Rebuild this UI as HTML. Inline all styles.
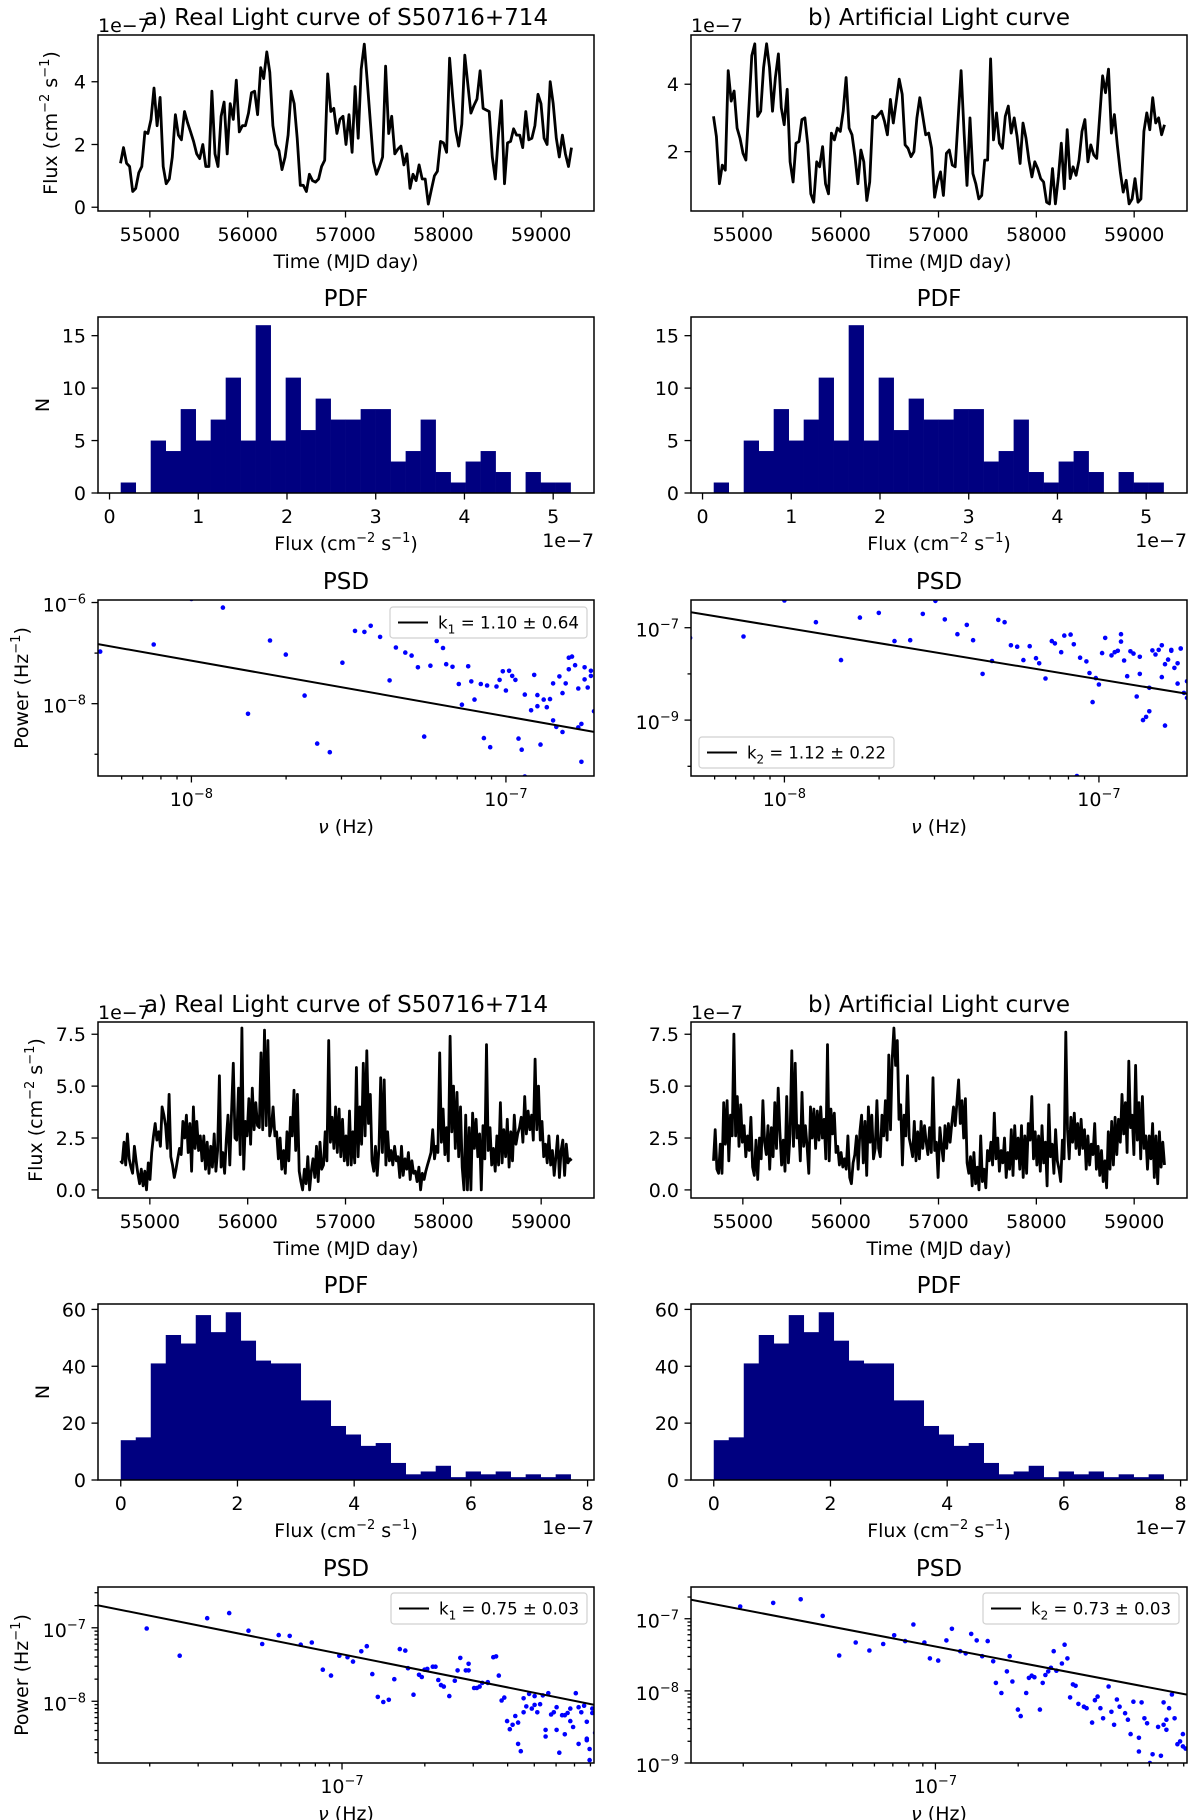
<!DOCTYPE html>
<html><head><meta charset="utf-8"><title>Light curves, PDF and PSD</title>
<style>
html,body{margin:0;padding:0;background:#fff;}
svg{display:block;font-family:"DejaVu Sans","Liberation Sans",sans-serif;}
</style></head>
<body>
<svg id="fig" xmlns="http://www.w3.org/2000/svg" width="1200" height="1820" viewBox="0 0 1200 1820">
<rect x="0" y="0" width="1200" height="1820" fill="#fff"/>
<defs id="defs"></defs>
</svg>
<script>
// ---------------- DATA ----------------
const lcTimeStart = 54700;
const lcTimeEnd = 59310;
const lcRealTop = [1.4,1.9,1.4,1.3,0.5,0.6,1.1,1.3,2.4,2.35,2.8,3.8,2.6,3.5,1.3,0.75,0.9,1.6,2.95,2.3,2.15,3.05,2.7,2.4,2.1,1.7,1.55,2.0,1.3,1.3,3.7,1.7,1.3,2.9,3.35,1.7,3.3,2.8,4.05,2.4,2.6,2.6,3.0,3.65,3.7,2.95,4.45,4.1,4.95,4.3,2.6,2.0,1.8,1.2,1.6,2.3,3.7,3.3,2.2,0.7,0.7,0.5,1.05,0.85,0.8,0.9,1.3,1.5,4.25,3.05,3.15,2.35,2.8,2.9,2.0,2.95,1.75,3.85,2.2,4.4,5.2,4.0,2.7,1.45,1.05,1.3,1.6,4.5,2.35,2.9,1.7,1.85,1.95,1.35,1.7,0.6,1.05,0.85,1.35,0.9,0.9,0.1,0.55,1.0,1.15,2.1,2.05,1.75,4.75,3.5,2.45,1.95,2.65,4.85,3.9,3.0,3.25,3.45,4.35,3.15,3.1,3.05,1.6,0.9,2.3,3.4,0.75,2.05,2.1,2.5,2.3,2.3,1.9,3.05,2.15,2.2,2.6,3.6,3.3,2.2,2.0,4.0,3.3,2.2,1.6,2.3,1.7,1.3,1.9];
const lcArtTop = [3.05,2.45,1.05,1.6,1.45,4.4,3.5,3.8,2.7,2.4,1.95,1.75,3.3,4.85,5.2,3.05,3.2,4.5,5.2,4.5,3.2,4.2,4.9,3.3,2.8,3.85,1.7,1.1,2.25,2.3,2.95,3.0,2.2,0.75,0.5,1.7,1.55,2.15,1.05,0.75,2.55,2.35,2.7,2.6,3.2,4.2,2.7,2.5,1.85,1.05,2.05,1.7,0.55,1.1,3.05,3.0,3.1,3.2,2.9,2.5,3.55,2.85,3.5,4.15,3.7,2.2,2.1,1.85,2.0,3.0,3.6,3.05,2.5,2.55,2.1,0.65,1.1,1.4,0.7,1.95,2.05,1.6,1.55,3.0,4.4,2.55,1.0,3.0,1.35,1.05,0.6,0.7,1.75,1.75,4.75,2.35,3.15,2.25,2.1,3.05,3.35,2.55,3.0,2.45,1.65,2.85,2.4,1.75,1.25,1.7,1.5,1.2,1.1,0.5,0.45,1.5,0.45,1.25,2.25,0.9,2.65,1.2,1.55,1.3,1.75,2.6,2.95,1.7,2.2,1.9,1.8,3.0,4.25,3.75,4.45,2.55,3.1,2.2,1.4,0.8,1.15,0.45,0.6,1.2,0.5,0.6,2.6,3.15,2.65,3.6,2.85,3.0,2.5,2.8];
const lcRealBottom = [1.4,1.3,2.3,1.2,2.7,1.5,1.1,0.8,2.1,1.4,0.8,0.3,1.0,0.2,0.9,0.0,1.3,0.5,1.8,2.6,3.2,2.4,
2.8,2.1,4.0,3.6,3.1,2.0,4.6,1.6,1.2,0.6,1.0,1.5,2.0,1.7,3.3,2.5,3.6,1.8,3.2,0.9,4.0,2.0,3.3,1.9,2.6,1.4,
2.6,1.0,2.3,0.8,2.1,1.1,2.7,0.9,1.9,5.5,1.1,1.8,0.8,2.4,3.6,1.2,3.7,6.1,2.5,2.4,4.9,1.7,
7.8,1.0,3.3,2.6,4.4,2.2,4.9,2.9,4.2,3.1,3.0,6.6,2.9,7.7,3.1,7.2,2.6,3.0,4.0,2.6,
2.8,1.5,2.5,1.0,1.9,0.8,2.8,1.4,3.5,2.6,4.8,1.9,4.6,0.9,0.4,0.0,1.0,0.3,1.6,0.0,0.9,1.5,
0.6,2.1,0.4,2.3,1.0,1.2,2.8,1.4,7.2,2.3,3.5,2.0,4.0,1.8,3.9,1.6,3.4,1.4,2.6,1.2,3.8,1.2,
2.8,1.3,5.9,1.6,4.0,2.2,6.1,2.6,6.7,3.2,4.6,1.4,0.9,2.1,0.7,2.0,5.4,1.8,5.3,1.2,2.8,1.4,
1.9,1.2,2.1,1.4,1.6,0.6,2.1,0.7,1.5,1.0,1.8,0.5,1.4,0.8,0.9,0.4,1.1,0.0,0.8,0.5,0.9,1.2,
1.5,1.8,2.9,1.5,2.1,1.8,6.6,2.3,3.9,1.7,3.0,1.4,7.4,2.8,5.0,2.0,4.7,1.6,4.0,1.1,0.0,3.6,
0.0,3.0,0.0,3.7,2.0,3.4,1.6,2.7,0.0,3.1,1.5,7.0,1.9,3.0,1.2,2.0,0.9,2.6,1.2,4.2,1.3,2.9,
1.6,3.4,1.1,2.8,1.4,3.6,2.2,2.7,3.0,3.5,2.3,4.5,2.7,3.8,2.9,3.6,2.4,6.3,2.9,5.0,2.4,3.3,
1.6,2.2,1.3,2.6,1.2,1.9,0.7,1.6,2.6,0.6,1.9,2.4,0.7,2.2,1.3,1.5,1.4];
const lcArtBottom = [1.4,2.9,1.0,0.8,2.2,0.8,4.2,2.2,4.3,1.4,3.6,2.6,7.5,2.6,4.5,2.1,4.1,2.3,3.1,1.6,2.6,1.9,3.5,1.1,
0.7,2.4,0.5,2.5,1.5,4.3,2.3,1.7,3.1,1.0,3.0,1.6,4.2,2.0,4.9,2.8,1.2,2.4,0.9,4.5,1.3,2.7,6.7,2.1,6.1,2.5,3.1,
1.4,4.7,2.1,3.1,2.1,0.8,4.0,2.5,3.9,2.0,3.8,2.4,4.0,2.5,3.4,1.5,7.0,1.4,3.9,2.7,3.7,1.8,
2.1,1.2,1.8,1.1,1.5,1.0,2.6,0.6,0.3,1.3,1.7,2.6,1.0,2.8,3.6,1.3,3.3,0.7,4.0,2.3,3.6,1.5,
2.0,4.3,2.0,1.6,3.6,2.6,4.3,2.4,6.5,2.9,6.3,7.8,6.0,7.2,3.4,4.1,1.2,3.6,2.6,5.5,2.5,
2.1,1.6,3.3,1.4,2.8,1.5,3.3,2.0,3.1,2.3,1.7,3.0,1.8,5.4,1.9,2.3,0.6,3.0,2.1,1.4,3.1,2.0,
3.2,2.3,3.2,4.0,3.1,4.2,5.3,3.2,4.3,2.5,4.4,1.3,0.8,1.6,0.2,1.8,0.3,1.1,0.0,2.6,0.4,1.0,0.1,
1.9,1.4,2.3,1.2,3.7,1.5,2.5,0.9,1.9,1.3,2.5,0.6,1.8,1.0,2.9,0.7,3.1,1.5,2.5,1.0,3.1,0.6,
2.6,0.8,3.2,2.4,4.5,1.5,2.8,1.2,2.6,0.9,3.1,1.3,2.3,0.2,4.1,1.6,2.2,0.8,2.9,1.4,1.0,0.4,
2.4,1.5,7.6,2.9,1.5,3.5,2.3,3.7,2.0,3.2,1.7,3.4,2.0,2.9,1.0,2.6,1.2,2.2,1.7,3.2,1.0,2.1,
0.7,1.9,0.4,1.4,0.1,2.8,1.0,3.3,1.2,3.5,1.7,3.4,2.3,4.6,2.7,4.2,1.8,6.2,3.0,3.6,1.7,6.0,
2.4,4.2,1.5,4.5,2.0,2.6,1.0,2.6,1.5,3.2,0.6,2.6,0.3,2.8,1.1,2.3,1.2];

const pdfTopBinStart = 0.126;
const pdfTopBinWidth = 0.169;
const pdfTopCounts = [1,0,5,4,8,5,7,11,5,16,5,11,6,9,7,7,8,8,3,4,7,2,1,3,4,2,0,2,1,1];
const pdfBottomBinStart = 0.0;
const pdfBottomBinWidth = 0.257;
const pdfBottomCounts = [14,15,41,51,48,58,52,59,49,42,41,41,28,28,19,16,12,13,6,2,3,5,1,3,2,3,1,2,1,2];

// PSD values as log10(frequency / Hz) and log10(power / Hz^-1)
const psdRealTopLogF = [-8.29,-8.12,-8.00,-7.90,-7.82,-7.75,-7.70,-7.64,-7.60,-7.56,-7.52,-7.48,-7.45,-7.43,-7.40,-7.37,-7.35,-7.32,-7.30,-7.28,-7.26,-7.24,-7.22,-7.20,-7.19,-7.17,-7.15,-7.14,-7.12,-7.11,-7.10,-7.08,-7.07,-7.06,-7.05,-7.03,-7.02,-7.01,-7.00,-6.99,-6.98,-6.97,-6.96,-6.95,-6.94,-6.92,-6.91,-6.90,-6.90,-6.89,-6.88,-6.87,-6.86,-6.85,-6.85,-6.84,-6.83,-6.82,-6.82,-6.81,-6.80,-6.80,-6.79,-6.78,-6.77,-6.77,-6.76,-6.76,-6.75,-6.75,-6.74,-6.73,-6.73,-6.72,-6.94];
const psdRealTopLogP = [-6.97,-6.83,-5.93,-6.10,-8.20,-6.75,-7.03,-7.84,-8.79,-8.96,-7.19,-6.56,-6.58,-6.46,-6.68,-7.54,-6.89,-6.99,-7.05,-7.28,-8.65,-7.25,-6.76,-6.90,-7.22,-7.27,-7.61,-8.02,-7.26,-7.56,-7.92,-7.61,-8.68,-7.64,-8.86,-7.66,-7.53,-7.36,-7.74,-7.35,-7.45,-7.53,-8.69,-8.91,-7.82,-8.13,-7.43,-7.83,-8.05,-8.81,-7.92,-8.07,-7.91,-8.33,-7.60,-8.46,-7.46,-7.79,-8.56,-7.60,-7.32,-7.09,-7.07,-7.24,-7.70,-8.47,-8.40,-9.15,-7.52,-7.28,-7.68,-7.35,-7.45,-8.15,-9.44];
const psdArtTopLogF = [-8.30,-8.13,-8.00,-7.90,-7.82,-7.76,-7.70,-7.65,-7.60,-7.56,-7.52,-7.49,-7.45,-7.42,-7.40,-7.37,-7.34,-7.32,-7.30,-7.28,-7.26,-7.24,-7.22,-7.20,-7.19,-7.17,-7.15,-7.14,-7.12,-7.11,-7.09,-7.08,-7.06,-7.04,-7.03,-7.02,-7.01,-7.00,-6.99,-6.98,-6.96,-6.95,-6.94,-6.93,-6.93,-6.92,-6.91,-6.90,-6.89,-6.88,-6.87,-6.87,-6.86,-6.85,-6.84,-6.84,-6.83,-6.82,-6.81,-6.80,-6.80,-6.79,-6.79,-6.78,-6.77,-6.77,-6.76,-6.75,-6.75,-6.74,-6.74,-6.73,-6.72,-6.72,-7.07];
const psdArtTopLogP = [-7.22,-7.19,-6.41,-6.88,-7.70,-6.78,-6.68,-7.29,-7.27,-6.70,-6.42,-6.82,-7.14,-6.94,-7.27,-8.00,-7.72,-6.83,-6.88,-7.38,-7.41,-7.70,-7.40,-7.66,-7.77,-8.10,-7.29,-7.34,-7.53,-7.17,-7.15,-7.36,-7.65,-7.73,-7.98,-8.61,-8.09,-8.23,-7.55,-7.22,-7.60,-7.53,-7.50,-7.30,-7.14,-7.71,-8.05,-7.51,-7.56,-8.49,-8.00,-7.63,-9.00,-8.93,-8.81,-8.30,-7.49,-7.58,-7.48,-7.38,-8.07,-9.12,-7.79,-7.69,-7.48,-7.50,-7.87,-8.21,-7.77,-7.45,-7.45,-8.41,-8.16,-8.52,-10.21];
const psdRealBottomLogF = [-7.71,-7.59,-7.49,-7.41,-7.34,-7.29,-7.23,-7.19,-7.15,-7.11,-7.07,-7.04,-7.01,-6.98,-6.96,-6.93,-6.91,-6.89,-6.87,-6.85,-6.83,-6.81,-6.79,-6.77,-6.76,-6.74,-6.72,-6.71,-6.70,-6.69,-6.67,-6.66,-6.65,-6.64,-6.63,-6.61,-6.59,-6.58,-6.57,-6.55,-6.54,-6.54,-6.52,-6.51,-6.50,-6.49,-6.47,-6.47,-6.45,-6.44,-6.43,-6.42,-6.41,-6.40,-6.39,-6.38,-6.37,-6.36,-6.36,-6.35,-6.34,-6.34,-6.33,-6.32,-6.31,-6.30,-6.30,-6.29,-6.28,-6.27,-6.26,-6.26,-6.25,-6.24,-6.23,-6.22,-6.22,-6.21,-6.20,-6.19,-6.19,-6.18,-6.17,-6.17,-6.16,-6.15,-6.14,-6.14,-6.13,-6.12,-6.11,-6.11,-6.11,-6.10,-6.10,-6.09,-6.09,-6.08,-6.07,-6.07];
const psdRealBottomLogP = [-7.01,-7.38,-6.87,-6.80,-7.04,-7.22,-7.10,-7.11,-7.23,-7.20,-7.57,-7.65,-7.38,-7.40,-7.46,-7.32,-7.25,-7.63,-7.94,-8.01,-7.98,-7.70,-7.29,-7.31,-7.55,-7.91,-7.64,-7.67,-7.57,-7.56,-7.53,-7.53,-7.71,-7.78,-7.80,-7.93,-7.72,-7.58,-7.41,-7.58,-7.49,-7.58,-7.82,-7.82,-7.80,-7.75,-7.74,-7.75,-7.40,-7.39,-7.65,-7.99,-7.95,-8.27,-8.38,-8.32,-8.20,-8.29,-8.58,-8.68,-7.96,-8.15,-8.07,-7.90,-8.10,-8.05,-7.93,-8.15,-8.04,-7.92,-8.39,-8.48,-7.89,-8.18,-8.15,-8.08,-8.39,-8.70,-8.19,-8.19,-8.45,-8.16,-8.10,-8.27,-8.35,-7.89,-8.08,-8.58,-8.15,-8.06,-8.28,-8.53,-8.51,-8.65,-8.80,-8.16,-8.10,-8.43,-8.16,-8.77];
const psdArtBottomLogF = [-7.71,-7.59,-7.49,-7.41,-7.35,-7.29,-7.24,-7.19,-7.15,-7.11,-7.08,-7.04,-7.02,-6.99,-6.96,-6.94,-6.91,-6.89,-6.87,-6.85,-6.83,-6.81,-6.79,-6.78,-6.76,-6.74,-6.73,-6.72,-6.70,-6.69,-6.67,-6.66,-6.65,-6.64,-6.62,-6.61,-6.60,-6.59,-6.58,-6.57,-6.56,-6.54,-6.53,-6.52,-6.51,-6.50,-6.49,-6.48,-6.46,-6.45,-6.43,-6.42,-6.41,-6.40,-6.39,-6.37,-6.36,-6.35,-6.34,-6.33,-6.31,-6.30,-6.29,-6.28,-6.26,-6.26,-6.25,-6.24,-6.23,-6.22,-6.21,-6.19,-6.18,-6.17,-6.17,-6.16,-6.16,-6.15,-6.14,-6.13,-6.12,-6.11,-6.10,-6.10,-6.09];
const psdArtBottomLogP = [-6.83,-6.78,-6.73,-6.96,-7.51,-7.33,-7.44,-7.35,-7.23,-7.31,-7.08,-7.33,-7.55,-7.58,-7.30,-7.14,-7.45,-7.48,-7.21,-7.30,-7.52,-7.31,-7.59,-7.89,-8.03,-7.73,-7.52,-7.87,-8.26,-8.35,-8.03,-7.82,-7.79,-7.81,-8.26,-7.89,-7.78,-7.73,-7.68,-7.45,-7.72,-7.62,-7.36,-7.55,-8.09,-7.91,-7.93,-8.18,-8.22,-8.24,-8.44,-8.13,-8.08,-8.24,-8.38,-7.94,-8.29,-8.47,-8.12,-8.22,-8.31,-8.40,-8.60,-8.15,-8.84,-8.65,-8.16,-8.38,-8.45,-9.00,-8.88,-8.50,-8.90,-8.47,-8.16,-8.54,-8.40,-8.24,-8.05,-8.38,-8.74,-8.70,-8.77,-8.60,-8.80];

// power-law fits: log10 P = fitIntercept - fitSlope * log10 f
const fitSlopes = [1.10, 1.12, 0.75, 0.73];
const fitIntercepts = [-15.95, -15.957, -12.61, -12.495];
const fitLabels = [["1","1.10 ± 0.64"],["2","1.12 ± 0.22"],["1","0.75 ± 0.03"],["2","0.73 ± 0.03"]];

const lcYTicksTopLeft = [0,2,4];
const lcYTicksTopRight = [2,4];
const lcYTicksBottom = [0,2.5,5,7.5];
const lcXTicks = [55000,56000,57000,58000,59000];
const pdfXTicksTop = [0,1,2,3,4,5];
const pdfYTicksTop = [0,5,10,15];
const pdfXTicksBottom = [0,2,4,6,8];
const pdfYTicksBottom = [0,20,40,60];

// ---------------- DRAWING ----------------
const NS = 'http://www.w3.org/2000/svg';
const svg = document.getElementById('fig');
const defs = document.getElementById('defs');
const FS = 19;
function mk(tag, attrs, parent){
  const e = document.createElementNS(NS, tag);
  for (const k in attrs) e.setAttribute(k, attrs[k]);
  (parent || svg).appendChild(e);
  return e;
}
function text(x, y, str, size, anchor, name, parent){
  const t = mk('text', {x:x, y:y, 'font-size':size, 'text-anchor':anchor, fill:'#000'}, parent);
  t.textContent = str;
  
  
  return t;
}
function powText(x, y, exp, anchor, name, parent){
  const t = mk('text', {x:x, y:y, 'font-size':FS, 'text-anchor':anchor, fill:'#000'}, parent);
  
  
  const a = mk('tspan', {}, t); a.textContent = '10';
  const b = mk('tspan', {dy:-8, 'font-size':13}, t); b.textContent = '−' + Math.abs(exp);
  return t;
}
let clipId = 0;
function makeAxes(L, T, R, B, xlim, ylim, name){
  const g = mk('g', {});
  
  
  const id = 'clip' + (clipId++);
  const cp = mk('clipPath', {id:id}, defs);
  mk('rect', {x:L, y:T, width:R-L, height:B-T}, cp);
  const plot = mk('g', {'clip-path':'url(#' + id + ')'}, g);
  
  
  const sx = v => L + (v - xlim[0]) / (xlim[1] - xlim[0]) * (R - L);
  const sy = v => B - (v - ylim[0]) / (ylim[1] - ylim[0]) * (B - T);
  return {g, plot, sx, sy, L, T, R, B, xlim, ylim, name};
}
function frame(ax){
  const f = mk('rect', {x:ax.L, y:ax.T, width:ax.R-ax.L, height:ax.B-ax.T, fill:'none', stroke:'#000', 'stroke-width':1.5}, ax.g);
  
  
}
function xTick(ax, v, len){
  const x = ax.sx(v);
  const l = mk('line', {x1:x, x2:x, y1:ax.B, y2:ax.B+len, stroke:'#000', 'stroke-width':1.3}, ax.g);
  
  
  return x;
}
function yTick(ax, v, len){
  const y = ax.sy(v);
  const l = mk('line', {x1:ax.L-len, x2:ax.L, y1:y, y2:y, stroke:'#000', 'stroke-width':1.3}, ax.g);
  
  
  return y;
}
function linTicks(ax, xt, yt, xfmt, yfmt){
  xt.forEach(v => { const x = xTick(ax, v, 6.5); text(x, ax.B + 30, xfmt(v), FS, 'middle', 'x-tick-label', ax.g); });
  yt.forEach(v => { const y = yTick(ax, v, 6.5); text(ax.L - 12, y + 7, yfmt(v), FS, 'end', 'y-tick-label', ax.g); });
}
// parts: [string, dy, isSuperscript]
function yLabel(x, y, parts, name){
  const t = mk('text', {x:0, y:0, 'font-size':FS, 'text-anchor':'middle', transform:'translate(' + x + ',' + y + ') rotate(-90)', dy:7});
  
  
  parts.forEach(p => {
    const at = {};
    if (p[1]) at.dy = p[1];
    if (p[2]) at['font-size'] = 13;
    const s = mk('tspan', at, t); s.textContent = p[0];
  });
  return t;
}
function fluxLabel(x, y, parent){
  const t = mk('text', {x:x, y:y, 'font-size':FS, 'text-anchor':'middle'}, parent);
  
  
  fluxParts.forEach(p => {
    const at = {};
    if (p[1]) at.dy = p[1];
    if (p[2]) at['font-size'] = 13;
    const s = mk('tspan', at, t); s.textContent = p[0];
  });
}
const fluxParts = [['Flux (cm',0,false],['−2',-8,true],[' s',8,false],['−1',-8,true],[')',8,false]];

const cols = [[98,594],[691,1187]];
const lcXLim = [54470, 59540];

function drawLC(col, top, values, ylim, yticks, yfmt, title, ylabX, name){
  const [L, R] = cols[col];
  const T = top, B = top + 176;
  const ax = makeAxes(L, T, R, B, lcXLim, ylim, name);
  const n = values.length;
  let d = '';
  values.forEach((v, i) => {
    const t = lcTimeStart + i * (lcTimeEnd - lcTimeStart) / (n - 1);
    d += (i ? 'L' : 'M') + ax.sx(t).toFixed(1) + ' ' + ax.sy(v).toFixed(1);
  });
  const p = mk('path', {d:d, fill:'none', stroke:'#000', 'stroke-width':2.8, 'stroke-linejoin':'round'}, ax.plot);
  
  
  frame(ax);
  linTicks(ax, lcXTicks, yticks, v => String(v), yfmt);
  text((L + R) / 2, B + 57, 'Time (MJD day)', FS, 'middle', 'x-axis-title', ax.g);
  text(L, T - 3, '1e−7', FS, 'start', 'y-offset-text', ax.g);
  text((L + R) / 2, T - 10, title, 23, 'middle', 'panel-title', ax.g);
  if (ylabX !== null) yLabel(ylabX, (T + B) / 2, fluxParts, 'y-axis-title');
}

function drawPDF(col, top, counts, binStart, binWidth, xlim, ylim, xticks, yticks, name){
  const [L, R] = cols[col];
  const T = top, B = top + 176;
  const ax = makeAxes(L, T, R, B, xlim, ylim, name);
  counts.forEach((c, i) => {
    if (c <= 0) return;
    const x0 = ax.sx(binStart + i * binWidth), x1 = ax.sx(binStart + (i + 1) * binWidth);
    const r = mk('rect', {x:x0, y:ax.sy(c), width:x1 - x0 + 0.3, height:ax.B - ax.sy(c), fill:'#000080'}, ax.plot);
    
    
  });
  frame(ax);
  linTicks(ax, xticks, yticks, v => String(v), v => String(v));
  fluxLabel((L + R) / 2, B + 57, ax.g);
  text(R, B + 54, '1e−7', FS, 'end', 'x-offset-text', ax.g);
  text((L + R) / 2, T - 11, 'PDF', 23, 'middle', 'panel-title', ax.g);
  if (col === 0) yLabel(42, (T + B) / 2, [['N',0,false]], 'y-axis-title');
}

function drawPSD(col, top, logF, logP, xlim, ylim, labeledY, minorYDecades, fitIdx, legendBox, name){
  const [L, R] = cols[col];
  const T = top, B = top + 176;
  const ax = makeAxes(L, T, R, B, xlim, ylim, name);
  logF.forEach((f, i) => {
    const c = mk('circle', {cx:ax.sx(f).toFixed(1), cy:ax.sy(logP[i]).toFixed(1), r:2.3, fill:'#0000ff'}, ax.plot);
    
    
  });
  const k = fitSlopes[fitIdx], a = fitIntercepts[fitIdx];
  const ln = mk('line', {x1:ax.sx(xlim[0]), y1:ax.sy(a - k * xlim[0]), x2:ax.sx(xlim[1]), y2:ax.sy(a - k * xlim[1]), stroke:'#000', 'stroke-width':2}, ax.plot);
  
  
  frame(ax);
  for (let dec = Math.floor(xlim[0]); dec <= Math.ceil(xlim[1]); dec++){
    for (let m = 1; m <= 9; m++){
      const v = dec + Math.log10(m);
      if (v < xlim[0] - 1e-6 || v > xlim[1] + 1e-6) continue;
      if (m === 1){ const x = xTick(ax, v, 6.5); powText(x, B + 30, dec, 'middle', 'x-tick-label', ax.g); }
      else xTick(ax, v, 3.5);
    }
  }
  for (let dec = Math.floor(ylim[0]); dec <= Math.ceil(ylim[1]); dec++){
    if (dec >= ylim[0] && dec <= ylim[1]){
      if (labeledY.includes(dec)){ const y = yTick(ax, dec, 6.5); powText(ax.L - 12, y + 9, dec, 'end', 'y-tick-label', ax.g); }
      else yTick(ax, dec, 3.5);
    }
    if (minorYDecades){
      for (let m = 2; m <= 9; m++){ const v = dec + Math.log10(m); if (v > ylim[0] && v < ylim[1]) yTick(ax, v, 3.5); }
    }
  }
  const xl = mk('text', {x:(L + R) / 2, y:B + 57, 'font-size':FS, 'text-anchor':'middle'}, ax.g);
  
  
  const xa = mk('tspan', {'font-style':'italic'}, xl); xa.textContent = 'ν';
  const xb = mk('tspan', {}, xl); xb.textContent = ' (Hz)';
  text((L + R) / 2, T - 11, 'PSD', 23, 'middle', 'panel-title', ax.g);
  if (col === 0) yLabel(21, (T + B) / 2, [['Power (Hz',0,false],['−1',-8,true],[')',8,false]], 'y-axis-title');
  const [lx, ly, lw, lh] = legendBox;
  const lg = mk('g', {}, ax.g);
  
  
  const bx = mk('rect', {x:lx, y:ly, width:lw, height:lh, rx:3, fill:'#fff', 'fill-opacity':0.85, stroke:'#d0d0d0', 'stroke-width':1.2}, lg);
  
  
  const sw = mk('line', {x1:lx + 8, x2:lx + 38, y1:ly + lh / 2, y2:ly + lh / 2, stroke:'#000', 'stroke-width':2}, lg);
  
  
  const lt = mk('text', {x:lx + 48, y:ly + lh / 2 + 6, 'font-size':16.5, textLength:lw - 56, lengthAdjust:'spacingAndGlyphs'}, lg);
  
  
  const s1 = mk('tspan', {}, lt); s1.textContent = 'k';
  const s2 = mk('tspan', {'font-size':12, dy:5}, lt); s2.textContent = fitLabels[fitIdx][0];
  const s3 = mk('tspan', {dy:-5}, lt); s3.textContent = ' = ' + fitLabels[fitIdx][1];
}

const OFF = 987;
drawLC(0, 35, lcRealTop, [-0.12, 5.49], lcYTicksTopLeft, v => String(v), 'a) Real Light curve of S50716+714', 50, 'real-light-curve-top');
drawLC(1, 35, lcArtTop, [0.24, 5.46], lcYTicksTopRight, v => String(v), 'b) Artificial Light curve', null, 'artificial-light-curve-top');
drawPDF(0, 317, pdfTopCounts, pdfTopBinStart, pdfTopBinWidth, [-0.13, 5.46], [0, 16.78], pdfXTicksTop, pdfYTicksTop, 'pdf-real-top');
drawPDF(1, 317, pdfTopCounts, pdfTopBinStart, pdfTopBinWidth, [-0.13, 5.46], [0, 16.78], pdfXTicksTop, pdfYTicksTop, 'pdf-artificial-top');
drawPSD(0, 600, psdRealTopLogF, psdRealTopLogP, [-8.297, -6.72], [-9.43, -5.95], [-6, -8], false, 0, [390, 607, 197, 31], 'psd-real-top');
drawPSD(1, 600, psdArtTopLogF, psdArtTopLogP, [-8.297, -6.72], [-10.21, -6.4], [-7, -9], false, 1, [699, 737, 195, 31], 'psd-artificial-top');
drawLC(0, 35 + OFF, lcRealBottom, [-0.39, 8.09], lcYTicksBottom, v => v.toFixed(1), 'a) Real Light curve of S50716+714', 35, 'real-light-curve-bottom');
drawLC(1, 35 + OFF, lcArtBottom, [-0.39, 8.09], lcYTicksBottom, v => v.toFixed(1), 'b) Artificial Light curve', null, 'artificial-light-curve-bottom');
drawPDF(0, 317 + OFF, pdfBottomCounts, pdfBottomBinStart, pdfBottomBinWidth, [-0.39, 8.11], [0, 61.9], pdfXTicksBottom, pdfYTicksBottom, 'pdf-real-bottom');
drawPDF(1, 317 + OFF, pdfBottomCounts, pdfBottomBinStart, pdfBottomBinWidth, [-0.39, 8.11], [0, 61.9], pdfXTicksBottom, pdfYTicksBottom, 'pdf-artificial-bottom');
drawPSD(0, 600 + OFF, psdRealBottomLogF, psdRealBottomLogP, [-7.887, -6.084], [-8.84, -6.445], [-7, -8], true, 2, [391, 1593, 196, 31], 'psd-real-bottom');
drawPSD(1, 600 + OFF, psdArtBottomLogF, psdArtBottomLogP, [-7.889, -6.085], [-9.0, -6.56], [-7, -8, -9], true, 3, [983, 1593, 196, 31], 'psd-artificial-bottom');
</script>
</body></html>
